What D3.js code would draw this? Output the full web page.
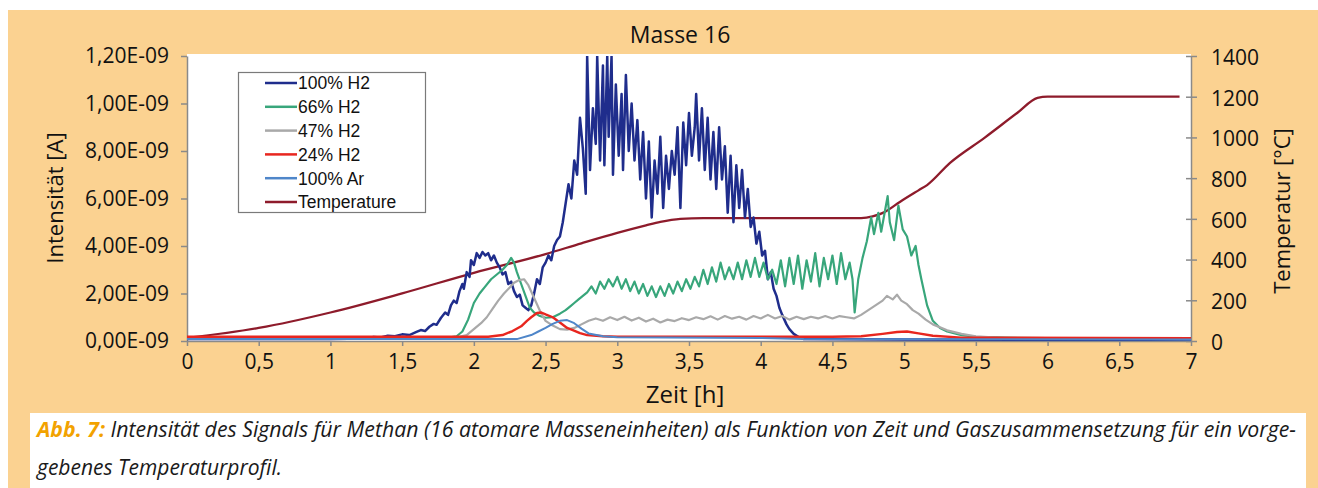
<!DOCTYPE html>
<html>
<head>
<meta charset="utf-8">
<script src="https://cdn.jsdelivr.net/npm/d3@7"></script>
<style>
  body { margin: 0; background: #fff; }
  text { font-family: "Open Sans", sans-serif; fill: #111; }
</style>
</head>
<body>
<svg id="chart" width="1318" height="488"></svg>
<script>
// intensity values are in units of 1e-10 A, time in h, temperature in °C
const h2_100 = [[0,0.08],[0.5,0.08],[1.0,0.08],[1.25,0.1],[1.3,0.17],[1.35,0.15],[1.4,0.22],[1.45,0.2],[1.5,0.28],[1.55,0.25],[1.6,0.38],[1.63,0.46],[1.66,0.42],[1.69,0.6],[1.72,0.72],[1.74,0.68],[1.77,0.97],[1.8,1.2],[1.82,1.1],[1.84,1.5],[1.86,1.7],[1.88,1.6],[1.9,2.1],[1.92,2.4],[1.93,2.2],[1.95,2.9],[1.97,2.7],[1.98,3.4],[2.0,3.2],[2.02,3.7],[2.04,3.5],[2.06,3.75],[2.08,3.6],[2.1,3.7],[2.12,3.4],[2.14,3.6],[2.16,3.3],[2.18,3.1],[2.2,2.8],[2.22,2.9],[2.24,2.4],[2.26,2.5],[2.28,2.1],[2.3,1.85],[2.32,1.95],[2.34,1.5],[2.36,1.4],[2.38,1.3],[2.4,1.5],[2.42,2.0],[2.44,2.6],[2.46,2.4],[2.48,3.1],[2.5,3.3],[2.52,3.6],[2.54,3.4],[2.56,4.0],[2.58,4.25],[2.6,4.4],[2.62,5.0],[2.64,5.8],[2.66,6.6],[2.68,6.0],[2.7,7.6],[2.72,7.0],[2.74,9.4],[2.76,8.1],[2.78,6.2],[2.79,12.0],[2.81,7.2],[2.83,9.8],[2.85,8.3],[2.86,12.0],[2.88,7.6],[2.9,11.6],[2.91,7.4],[2.93,12.0],[2.94,8.6],[2.96,12.0],[2.97,7.0],[2.99,10.8],[3.01,7.8],[3.03,10.4],[3.04,7.2],[3.06,11.2],[3.08,8.0],[3.1,10.0],[3.12,7.6],[3.14,9.3],[3.16,6.8],[3.18,8.8],[3.2,6.0],[3.22,8.4],[3.24,5.2],[3.26,7.6],[3.28,6.2],[3.3,8.6],[3.32,5.6],[3.34,7.8],[3.36,6.4],[3.38,8.0],[3.4,7.0],[3.42,9.0],[3.44,5.6],[3.46,9.2],[3.48,7.4],[3.5,9.6],[3.52,7.8],[3.54,9.0],[3.55,10.4],[3.57,7.6],[3.59,9.8],[3.61,7.2],[3.63,9.4],[3.65,6.8],[3.67,8.8],[3.69,6.4],[3.71,9.0],[3.73,6.8],[3.75,8.2],[3.77,5.4],[3.79,7.8],[3.81,5.0],[3.83,7.4],[3.85,5.6],[3.87,7.2],[3.89,5.2],[3.91,6.4],[3.93,4.8],[3.95,5.2],[3.97,4.1],[3.99,4.6],[4.01,3.6],[4.03,3.8],[4.05,2.6],[4.07,2.9],[4.09,2.2],[4.11,1.9],[4.13,1.4],[4.15,1.1],[4.18,0.7],[4.2,0.5],[4.23,0.3],[4.27,0.15],[4.3,0.08],[5.0,0.06],[7.0,0.05]];

const h2_66 = [[0,0.12],[1.8,0.12],[1.88,0.2],[1.92,0.4],[1.96,0.9],[2.0,1.6],[2.04,2.0],[2.08,2.3],[2.12,2.6],[2.16,2.8],[2.2,3.0],[2.23,3.2],[2.26,3.5],[2.28,3.3],[2.3,2.9],[2.33,2.4],[2.36,1.9],[2.39,1.4],[2.42,1.2],[2.46,1.05],[2.5,0.98],[2.55,1.0],[2.6,1.15],[2.64,1.3],[2.67,1.45],[2.7,1.6],[2.73,1.75],[2.76,1.9],[2.79,2.05],[2.82,2.3],[2.85,2.0],[2.88,2.5],[2.91,2.2],[2.94,2.6],[2.97,2.3],[3.0,2.7],[3.03,2.2],[3.06,2.6],[3.09,2.1],[3.12,2.5],[3.15,2.0],[3.18,2.4],[3.21,1.9],[3.24,2.3],[3.27,1.85],[3.3,2.3],[3.33,1.9],[3.36,2.4],[3.39,2.0],[3.42,2.5],[3.45,2.1],[3.48,2.6],[3.51,2.2],[3.54,2.7],[3.57,2.3],[3.6,3.0],[3.63,2.4],[3.66,3.1],[3.69,2.5],[3.72,3.3],[3.75,2.6],[3.78,3.1],[3.81,2.6],[3.84,3.3],[3.87,2.6],[3.9,3.4],[3.93,2.7],[3.96,3.5],[3.99,2.7],[4.02,3.3],[4.05,2.6],[4.08,3.0],[4.11,2.4],[4.14,3.4],[4.17,2.3],[4.2,3.5],[4.23,2.4],[4.26,3.6],[4.29,2.2],[4.32,3.4],[4.35,2.5],[4.38,3.7],[4.41,2.3],[4.44,3.5],[4.47,2.6],[4.5,3.6],[4.53,2.4],[4.56,3.7],[4.59,2.6],[4.62,3.3],[4.64,2.6],[4.655,1.2],[4.68,2.6],[4.71,3.5],[4.74,4.2],[4.77,5.2],[4.79,4.5],[4.82,5.4],[4.84,4.6],[4.87,5.6],[4.885,6.1],[4.9,5.0],[4.93,4.25],[4.96,5.7],[4.99,4.7],[5.02,4.4],[5.05,3.6],[5.08,4.0],[5.1,3.2],[5.12,2.6],[5.16,1.5],[5.2,0.85],[5.25,0.55],[5.3,0.4],[5.4,0.25],[5.5,0.18],[5.7,0.14],[6.0,0.12],[7.0,0.1]];

const h2_47 = [[0,0.1],[1.85,0.1],[1.95,0.25],[2.0,0.5],[2.05,0.75],[2.09,1.0],[2.13,1.35],[2.17,1.7],[2.21,2.0],[2.25,2.25],[2.28,2.45],[2.31,2.55],[2.35,2.6],[2.38,2.35],[2.41,1.95],[2.44,1.55],[2.47,1.15],[2.5,0.85],[2.55,0.65],[2.6,0.5],[2.65,0.48],[2.7,0.55],[2.75,0.7],[2.8,0.85],[2.85,0.95],[2.9,0.85],[2.95,1.0],[3.0,0.88],[3.05,1.02],[3.1,0.86],[3.15,0.98],[3.2,0.82],[3.25,0.94],[3.3,0.78],[3.35,0.9],[3.4,0.84],[3.45,0.96],[3.5,0.88],[3.55,1.0],[3.6,0.92],[3.65,1.04],[3.7,0.9],[3.75,1.05],[3.8,0.94],[3.85,1.02],[3.9,0.9],[3.95,1.05],[4.0,0.95],[4.05,1.1],[4.1,0.95],[4.15,1.05],[4.2,0.9],[4.25,1.02],[4.3,0.92],[4.35,1.02],[4.4,0.95],[4.45,1.05],[4.5,0.95],[4.55,1.05],[4.6,1.0],[4.65,0.95],[4.7,1.1],[4.75,1.3],[4.8,1.5],[4.85,1.7],[4.88,1.9],[4.92,1.75],[4.95,1.95],[4.98,1.7],[5.02,1.55],[5.06,1.3],[5.1,1.15],[5.15,0.9],[5.2,0.7],[5.3,0.45],[5.4,0.3],[5.5,0.2],[5.7,0.12],[7.0,0.08]];

const h2_24 = [[0,0.18],[2.1,0.18],[2.2,0.25],[2.27,0.42],[2.33,0.62],[2.37,0.85],[2.4,1.0],[2.44,1.18],[2.47,1.2],[2.5,1.12],[2.55,1.0],[2.6,0.78],[2.65,0.55],[2.69,0.46],[2.74,0.33],[2.79,0.25],[2.9,0.2],[3.0,0.18],[4.5,0.18],[4.7,0.2],[4.85,0.3],[4.95,0.38],[5.02,0.4],[5.1,0.32],[5.2,0.22],[5.4,0.14],[7.0,0.12]];

const ar_100 = [[0,0.08],[2.3,0.08],[2.4,0.25],[2.45,0.4],[2.5,0.55],[2.55,0.72],[2.6,0.85],[2.65,0.88],[2.7,0.75],[2.75,0.52],[2.8,0.32],[2.9,0.2],[3.0,0.16],[4.0,0.13],[4.3,0.08],[7.0,0.06]];

const temperature = [[0,15],[0.5,64],[1.0,140],[1.5,234],[2.0,335],[2.5,427],[2.75,480],[3.0,531],[3.2,568],[3.3,585],[3.44,600],[3.6,604],[4.7,604],[4.78,612],[4.86,632],[4.97,683],[5.1,740],[5.16,766],[5.32,875],[5.56,998],[5.79,1121],[5.93,1194],[6.0,1200],[6.92,1200]];

const seriesNames = ["100% H2", "66% H2", "47% H2", "24% H2", "100% Ar", "Temperature"];
const seriesColors = ["#1f2d8c", "#38a67b", "#a9a9a9", "#e8261f", "#4f86c9", "#8e1b2b"];

const xTicks = [0, 0.5, 1, 1.5, 2, 2.5, 3, 3.5, 4, 4.5, 5, 5.5, 6, 6.5, 7];
const xLabels = ["0", "0,5", "1", "1,5", "2", "2,5", "3", "3,5", "4", "4,5", "5", "5,5", "6", "6,5", "7"];
const leftTicks = [0, 2, 4, 6, 8, 10, 12];
const leftLabels = ["0,00E-09", "2,00E-09", "4,00E-09", "6,00E-09", "8,00E-09", "1,00E-09", "1,20E-09"];
const rightTicks = [0, 200, 400, 600, 800, 1000, 1200, 1400];

const svg = d3.select("#chart");

// panel backgrounds
svg.append("rect").attr("x", 8).attr("y", 10).attr("width", 1310).attr("height", 478).attr("fill", "#fbd291");
svg.append("rect").attr("x", 30).attr("y", 413).attr("width", 1276).attr("height", 75).attr("fill", "#fff");

const x = d3.scaleLinear().domain([0, 7]).range([187, 1191]);
const yL = d3.scaleLinear().domain([0, 12]).range([341, 56]);
const yR = d3.scaleLinear().domain([0, 1400]).range([341, 56]);

svg.append("rect").attr("x", 187).attr("y", 54).attr("width", 1004).attr("height", 287).attr("fill", "#fff");

svg.append("defs").append("clipPath").attr("id", "plotclip")
  .append("rect").attr("x", 187).attr("y", 56).attr("width", 1004).attr("height", 286);

// axes
const axisColor = "#8a8a8a";
const gLeft = svg.append("g").attr("transform", "translate(187,0)")
  .call(d3.axisLeft(yL).tickValues(leftTicks).tickFormat((d, i) => leftLabels[i]).tickSize(6).tickSizeOuter(0).tickPadding(12));
const gRight = svg.append("g").attr("transform", "translate(1191,0)")
  .call(d3.axisRight(yR).tickValues(rightTicks).tickFormat(d3.format("d")).tickSize(6).tickSizeOuter(0).tickPadding(14));
gRight.selectAll(".tick line").attr("x1", -5);
const gBottom = svg.append("g").attr("transform", "translate(0,341)")
  .call(d3.axisBottom(x).tickValues(xTicks).tickFormat((d, i) => xLabels[i]).tickSize(5).tickSizeOuter(0).tickPadding(8));

[gLeft, gRight, gBottom].forEach(g => {
  g.select(".domain").attr("stroke", axisColor).attr("stroke-width", 1.5);
  g.selectAll(".tick line").attr("stroke", axisColor).attr("stroke-width", 1.5);
  g.selectAll(".tick text").attr("font-family", "Open Sans").attr("font-size", 21).attr("fill", "#111");
});
gRight.selectAll(".tick text").attr("dy", "0.4em");

// lines
const lineL = d3.line().x(d => x(d[0])).y(d => yL(d[1]));
const lineT = d3.line().x(d => x(d[0])).y(d => yR(d[1])).curve(d3.curveMonotoneX);
const plot = svg.append("g").attr("clip-path", "url(#plotclip)");

plot.append("path").datum(temperature).attr("d", lineT)
  .attr("fill", "none").attr("stroke", seriesColors[5]).attr("stroke-width", 2.3);

const intensity = [h2_100, h2_66, h2_47, h2_24, ar_100];
const widths = [2.5, 2.2, 2.2, 2.4, 2];
intensity.forEach((s, i) => {
  plot.append("path").datum(s).attr("d", lineL)
    .attr("fill", "none").attr("stroke", seriesColors[i]).attr("stroke-width", widths[i])
    .attr("stroke-linejoin", "round");
});

// legend
const legend = svg.append("g");
legend.append("rect").attr("x", 238.5).attr("y", 72.5).attr("width", 187).attr("height", 140)
  .attr("fill", "#fff").attr("stroke", "#7a7a7a").attr("stroke-width", 1.2);
seriesNames.forEach((name, i) => {
  const yy = 83 + i * 23.8;
  legend.append("line").attr("x1", 265).attr("x2", 297).attr("y1", yy).attr("y2", yy)
    .attr("stroke", seriesColors[i]).attr("stroke-width", 2.5);
  legend.append("text").attr("x", 298).attr("y", yy).attr("dy", "0.36em")
    .style("font-family", "'Liberation Sans', Arial, sans-serif").attr("font-size", 17.5).attr("fill", "#222")
    .text(name);
});

// titles
svg.append("text").attr("x", 680).attr("y", 43).attr("text-anchor", "middle").attr("font-size", 23).text("Masse 16");

svg.append("text").attr("x", 685).attr("y", 403).attr("text-anchor", "middle").attr("font-size", 24).text("Zeit [h]");

svg.append("text").attr("transform", "translate(63,198) rotate(-90)").attr("text-anchor", "middle")
  .attr("font-size", 22).text("Intensität [A]");
svg.append("text").attr("transform", "translate(1290,211) rotate(-90)").attr("text-anchor", "middle")
  .attr("font-size", 22).text("Temperatur [°C]");

// caption
const cap1 = svg.append("text").attr("x", 37).attr("y", 437).attr("font-size", 21).attr("font-style", "italic")
  .attr("textLength", 1259).attr("lengthAdjust", "spacingAndGlyphs");
cap1.append("tspan").style("fill", "#f2a200").attr("font-weight", 700).text("Abb. 7: ");
cap1.append("tspan").style("fill", "#1a1a1a").text("Intensität des Signals für Methan (16 atomare Masseneinheiten) als Funktion von Zeit und Gaszusammensetzung für ein vorge-");
svg.append("text").attr("x", 37).attr("y", 475).attr("font-size", 21).attr("font-style", "italic")
  .style("fill", "#1a1a1a").text("gebenes Temperaturprofil.");
</script>
</body>
</html>
